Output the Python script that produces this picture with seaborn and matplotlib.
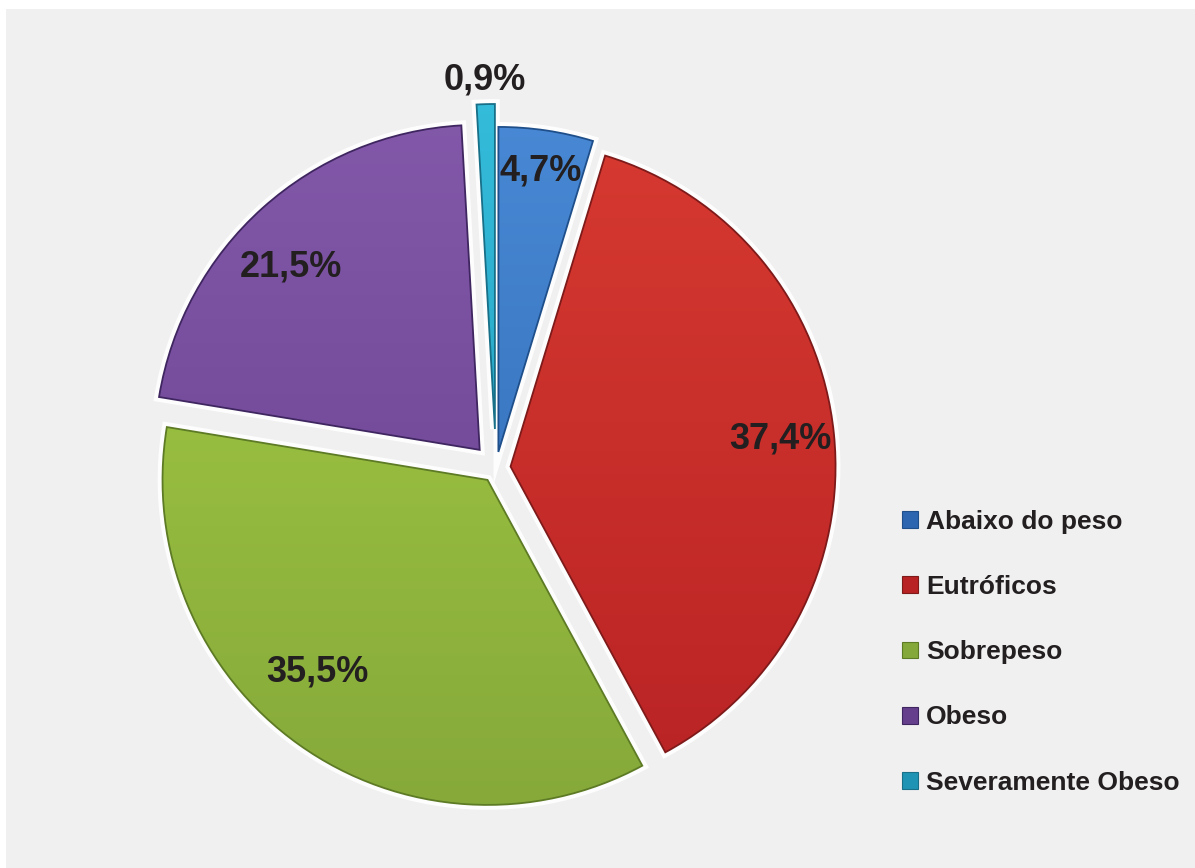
import numpy as np
import matplotlib
matplotlib.use("Agg")
import matplotlib.pyplot as plt
import seaborn as sns
from matplotlib.patches import Rectangle, Wedge, Patch
from matplotlib.colors import to_rgb

# Nutritional status distribution (%)
categories = ["Abaixo do peso", "Eutróficos", "Sobrepeso", "Obeso", "Severamente Obeso"]
values = [4.7, 37.4, 35.5, 21.5, 0.9]

# Styling
explode = [0.05, 0.045, 0.045, 0.075, 0.12]
top_colors = ["#4a8ad6", "#d83b31", "#a8d044", "#8459ab", "#35bddc"]
bottom_colors = ["#2c66b0", "#b82224", "#85a83a", "#653f8c", "#1f93b3"]
edge_colors = ["#1f4f8a", "#7e1a1a", "#5d7a25", "#3f2660", "#176f88"]
label_radius = [0.875, 0.835, 0.79, 0.81, 1.075]
label_angle_shift = [0.0, 0.0, -6.0, 4.0, 0.0]
text_color = "#231f20"

sns.set_theme(style="white")
plt.rcParams["font.family"] = ["Liberation Sans", "DejaVu Sans"]

W, H = 1195, 868
fig = plt.figure(figsize=(W / 100, H / 100), dpi=100, facecolor="white")
fig.patches.append(Rectangle((6 / W, 0), 1 - 6 / W, 1 - 9 / H, transform=fig.transFigure,
                             facecolor="#f0f0f0", edgecolor="none", zorder=-2))

ax = fig.add_axes([0, 0, 1, 1])
ax.axis("off")
R = 325.0
cx, cy = 496.0, 468.0

wedges, _ = ax.pie(values, explode=explode, startangle=90, counterclock=False,
                   radius=1.0, center=(0, 0), labels=None,
                   wedgeprops=dict(linewidth=0))

y_top, y_bot = 1.2, -1.1
for i, w in enumerate(wedges):
    w.set_visible(False)
    c = w.center
    # soft white halo around each slice
    halo = Wedge(c, w.r, w.theta1, w.theta2, facecolor="white", edgecolor="white",
                 linewidth=7, alpha=0.9, zorder=1)
    ax.add_patch(halo)
    # vertical gradient fill clipped to the slice
    t = np.linspace(0, 1, 256)[:, None]
    c0 = np.array(to_rgb(top_colors[i]))
    c1 = np.array(to_rgb(bottom_colors[i]))
    grad = (1 - t)[..., None] * c0 + t[..., None] * c1
    grad = np.repeat(grad, 2, axis=1)
    shape = Wedge(c, w.r, w.theta1, w.theta2, facecolor="none",
                  edgecolor=edge_colors[i], linewidth=1.3, zorder=3)
    ax.add_patch(shape)
    im = ax.imshow(grad, extent=(-1.6, 1.6, y_bot, y_top), origin="upper",
                   aspect="auto", zorder=2, interpolation="bilinear")
    im.set_clip_path(shape)

    mid = np.deg2rad((w.theta1 + w.theta2) / 2 + label_angle_shift[i])
    lx = c[0] + label_radius[i] * np.cos(mid)
    ly = c[1] + label_radius[i] * np.sin(mid)
    ax.text(lx, ly, f"{values[i]:.1f}%".replace(".", ","), ha="center", va="center",
            fontsize=26, fontweight="bold", color=text_color, zorder=5)

ax.set_xlim(-cx / R, (W - cx) / R)
ax.set_ylim(-(H - cy) / R, cy / R)

handles = [Patch(facecolor=bottom_colors[i], edgecolor=edge_colors[i], linewidth=0.8)
           for i in range(len(categories))]
leg = fig.legend(handles, categories, loc="upper left",
                 bbox_to_anchor=(902 / W, 1 - 510 / H), frameon=False,
                 prop=dict(family="Liberation Sans", weight="bold", size=19),
                 handlelength=0.6, handleheight=0.6, handletextpad=0.3,
                 labelspacing=1.56, borderpad=0, borderaxespad=0)
for txt in leg.get_texts():
    txt.set_color(text_color)

fig.savefig("out.png", dpi=100, facecolor="white")
